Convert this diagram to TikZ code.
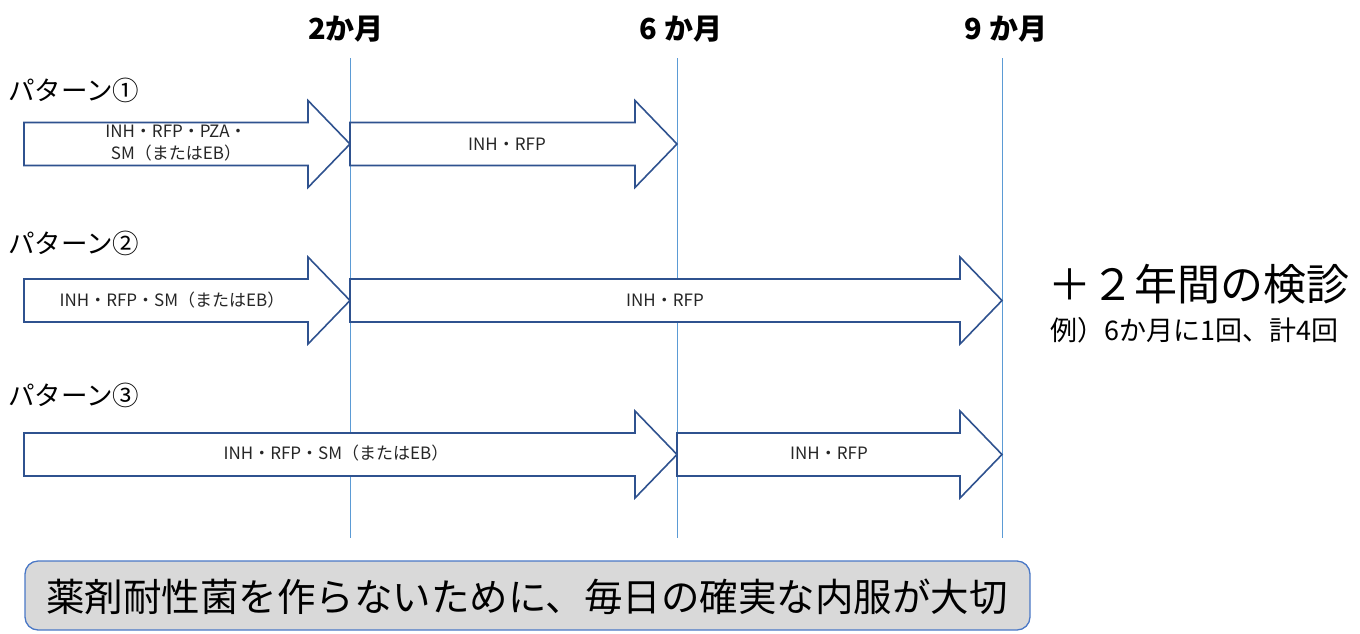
\documentclass[tikz,border=0pt]{standalone}
\usepackage{fontspec}
\setmainfont{Noto Sans CJK JP}
\definecolor{vblue}{HTML}{5B9BD5}
\definecolor{ablue}{HTML}{2F528F}
\definecolor{boxblue}{HTML}{4A78C6}
\definecolor{boxgray}{HTML}{D9D9D9}
\definecolor{lblgray}{HTML}{262626}
\newcommand\blockarr[4]{% name, x0, xtip, yc
  \draw[arrowshape] (#2,#4-21.5) -- (#3-42,#4-21.5) -- (#3-42,#4-43.5) -- (#3,#4)
    -- (#3-42,#4+43.5) -- (#3-42,#4+21.5) -- (#2,#4+21.5) -- cycle;
  \coordinate (#1) at ({(#2+#3-42)/2},#4);}
\begin{document}
\begin{tikzpicture}[x=1pt,y=-1pt,
  vline/.style={draw=vblue,line width=1pt},
  arrowshape/.style={draw=ablue,fill=white,line width=1.6pt,line join=miter},
  alabel/.style={text=lblgray,font=\fontsize{17}{22}\selectfont,align=center,inner sep=0pt},
  header/.style={font=\fontsize{29}{32}\selectfont\bfseries,inner sep=0pt},
  pattern/.style={font=\fontsize{26.5}{30}\selectfont,anchor=west,inner sep=0pt},
  note/.style={draw=boxblue,fill=boxgray,line width=1.3pt,rounded corners=13pt}]
\useasboundingbox (0,0) rectangle (1360,633);
% vertical lines
\coordinate (t2) at (350,58); \coordinate (b2) at (350,538);
\coordinate (t6) at (677,58); \coordinate (b6) at (677,538);
\coordinate (t9) at (1002,58); \coordinate (b9) at (1002,538);
\draw[vline] (t2) -- (b2);
\draw[vline] (t6) -- (b6);
\draw[vline] (t9) -- (b9);
% headers
\node[header] (h2) at (346,29) {2か月};
\node[header] (h6) at (681,29) {6 か月};
\node[header] (h9) at (1006,29) {9 か月};
% pattern labels
\node[pattern] (p1) at (8,90) {パターン①};
\node[pattern] (p2) at (8,243) {パターン②};
\node[pattern] (p3) at (8,395) {パターン③};
% arrows
\blockarr{a1}{24}{350}{144}
\blockarr{a1b}{350}{677}{144}
\blockarr{a2}{24}{350}{300.5}
\blockarr{a2b}{350}{1002}{300.5}
\blockarr{a3}{24}{677}{454.5}
\blockarr{a3b}{677}{1002}{454.5}
\node[alabel] (l1) at (176,143) {INH・RFP・PZA・\\SM（またはEB）};
\node[alabel] (l1b) at (507,144) {INH・RFP};
\node[alabel] (l2) at (172,300) {INH・RFP・SM（またはEB）};
\node[alabel] (l2b) at (665,300) {INH・RFP};
\node[alabel] (l3) at (336,453) {INH・RFP・SM（またはEB）};
\node[alabel] (l3b) at (829,453) {INH・RFP};
% right note
\node[font=\fontsize{43}{46}\selectfont,anchor=west,inner sep=0pt] (r1) at (1048,284) {＋２年間の検診};
\node[font=\fontsize{27}{30}\selectfont,anchor=west,inner sep=0pt] (r2) at (1050,330) {例）6か月に1回、計4回};
% bottom box
\draw[note] (25,561) rectangle (1030,630);
\node[font=\fontsize{38.5}{42}\selectfont,inner sep=0pt] (msg) at (527,597) {薬剤耐性菌を作らないために、毎日の確実な内服が大切};
\end{tikzpicture}
\end{document}
